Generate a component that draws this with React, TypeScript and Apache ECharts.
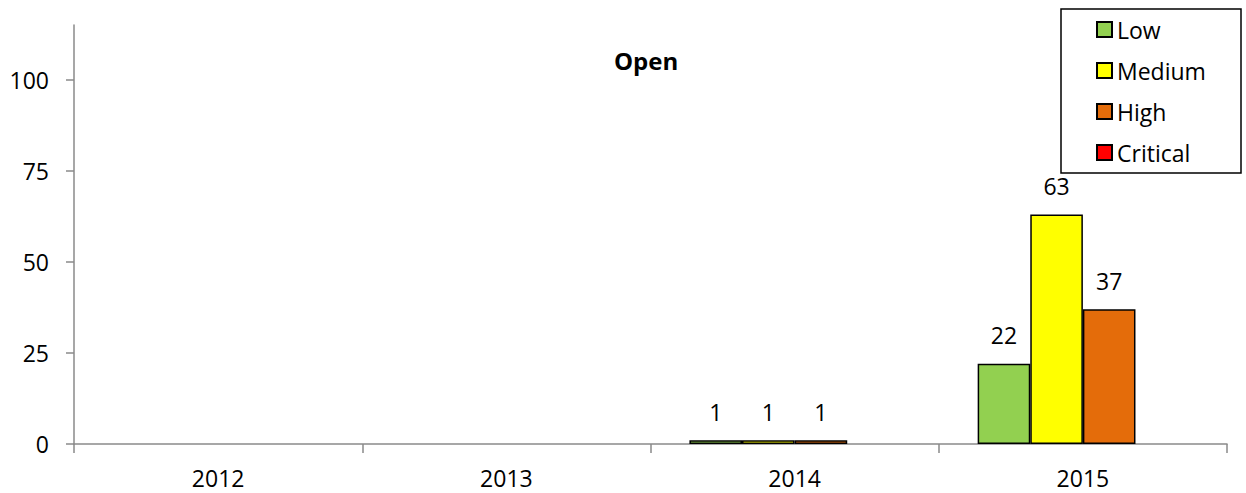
import React, { useEffect, useRef } from "react";
import * as echarts from "echarts";

// Open issues per year, split by severity
const years = ["2012", "2013", "2014", "2015"];
const lowCounts = [0, 0, 1, 22];
const mediumCounts = [0, 0, 1, 63];
const highCounts = [0, 0, 1, 37];
const criticalCounts = [0, 0, 0, 0];
const yTicks = [0, 25, 50, 75, 100];

const FONT = "'Open Sans', 'Noto Sans', sans-serif";
const FONT_SIZE = 23;

const severities = [
  { name: "Low", values: lowCounts, color: "#92D050" },
  { name: "Medium", values: mediumCounts, color: "#FFFF00" },
  { name: "High", values: highCounts, color: "#E46C0A" },
  { name: "Critical", values: criticalCounts, color: "#FF0000" },
];

export default function App() {
  const ref = useRef<HTMLDivElement>(null);

  useEffect(() => {
    if (!ref.current) return;
    const chart = echarts.init(ref.current, null, { renderer: "svg" });

    const axisGrey = "#8a8a8a";

    chart.setOption({
      animation: false,
      backgroundColor: "#ffffff",
      textStyle: { fontFamily: FONT },
      title: {
        text: "Open",
        left: 614,
        top: 48,
        padding: 0,
        textStyle: {
          fontFamily: FONT,
          fontSize: 24,
          fontWeight: "bold",
          color: "#000000",
        },
      },
      grid: { left: 74, right: 19, top: 25, bottom: 49, containLabel: false },
      legend: {
        orient: "vertical",
        left: 1096,
        top: 18,
        padding: 0,
        itemWidth: 15,
        itemHeight: 15,
        itemGap: 18,
        icon: "rect",
        selectedMode: false,
        textStyle: { fontFamily: FONT, fontSize: FONT_SIZE, color: "#000000" },
        data: severities.map((s) => s.name),
      },
      graphic: [
        {
          type: "rect",
          shape: { x: 1061, y: 9, width: 180, height: 164 },
          style: { fill: "none", stroke: "#000000", lineWidth: 1.5 },
          z: 10,
        },
      ],
      xAxis: {
        type: "category",
        data: years,
        axisLine: { lineStyle: { color: axisGrey, width: 1.5 } },
        axisTick: { show: true, length: 9, lineStyle: { color: axisGrey, width: 1.5 } },
        axisLabel: {
          margin: 22,
          fontFamily: FONT,
          fontSize: FONT_SIZE,
          color: "#000000",
        },
      },
      yAxis: {
        type: "value",
        min: 0,
        max: 115,
        interval: 25,
        splitLine: { show: false },
        axisLine: { show: true, lineStyle: { color: axisGrey, width: 1.5 } },
        axisTick: {
          show: true,
          length: 8,
          customValues: yTicks,
          lineStyle: { color: axisGrey, width: 1.5 },
        },
        axisLabel: {
          margin: 25,
          customValues: yTicks,
          fontFamily: FONT,
          fontSize: FONT_SIZE,
          color: "#000000",
        },
      },
      series: severities.map((s) => ({
        name: s.name,
        type: "bar",
        barGap: "0%",
        barCategoryGap: "27%",
        data: s.values.map((v) => (v === 0 ? null : v)),
        itemStyle: { color: s.color, borderColor: "#000000", borderWidth: 1.5 },
        label: {
          show: true,
          position: "top",
          distance: 17,
          fontFamily: FONT,
          fontSize: FONT_SIZE,
          color: "#000000",
        },
      })),
    });

    return () => chart.dispose();
  }, []);

  return (
    <div
      ref={ref}
      style={{ position: "fixed", left: 0, top: 0, width: 1246, height: 493 }}
    />
  );
}
